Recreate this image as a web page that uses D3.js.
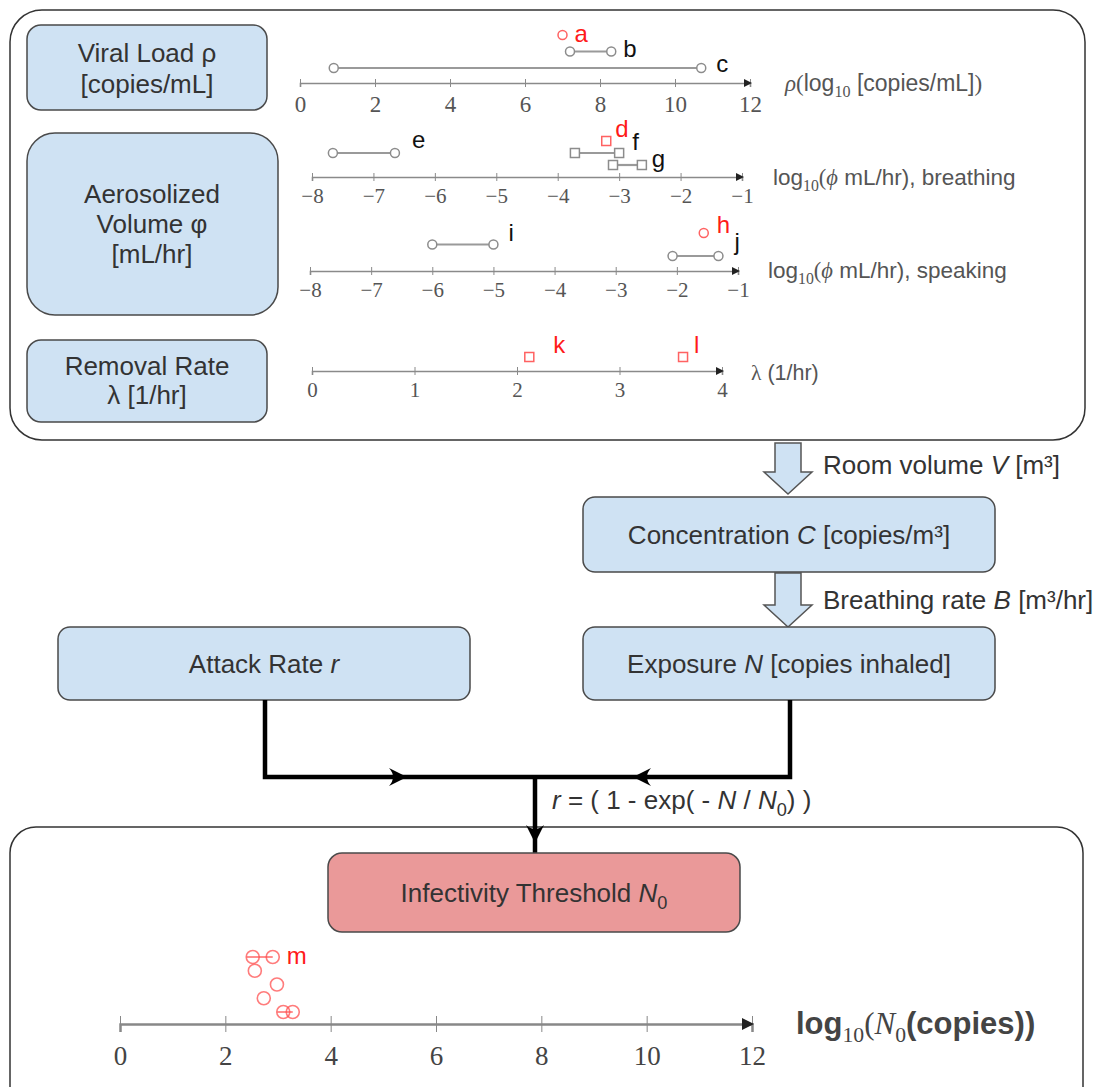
<!DOCTYPE html>
<html>
<head>
<meta charset="utf-8">
<script src="https://cdn.jsdelivr.net/npm/d3@7"></script>
<style>
  body { margin: 0; background: #fff; }
  svg { display: block; }
</style>
</head>
<body>
<svg id="chart" width="1099" height="1087"></svg>
<script>
// ---- data ----
const rhoTicks = [0, 2, 4, 6, 8, 10, 12];
const phiTicks = [-8, -7, -6, -5, -4, -3, -2, -1];
const lambdaTicks = [0, 1, 2, 3, 4];
const n0Ticks = [0, 2, 4, 6, 8, 10, 12];

// [label, low, high]
const rhoRanges = [["c", 0.9, 10.7], ["b", 7.2, 8.3]];
const rhoPoints = [["a", 7.0]];
const breathRanges = [["g", -3.1, -2.63], ["e", -7.66, -6.65], ["f", -3.72, -3.0]];
const breathPoints = [["d", -3.21]];
const speakRanges = [["j", -2.07, -1.32], ["i", -6.0, -5.0]];
const speakPoints = [["h", -1.56]];
const lambdaPoints = [["k", 2.12], ["l", 3.62]];
// infectivity threshold estimates, top row first
const n0Rows = [[2.52, 2.9], [2.56], [2.98], [2.73], [3.1, 3.28]];

// ---- layout ----
const svg = d3.select("#chart");
const SANS = "Liberation Sans, Arial, sans-serif";
const SERIF = "Liberation Serif, Times New Roman, serif";
const BLUE = "#cfe2f3";
const GREY_MARK = "#8c8c8c";
const RED = "#ff3b3b";

const rowOf = { c: 0, b: 1, a: 2, g: 0, e: 1, f: 1, d: 2, j: 0, i: 1, h: 2, k: 0, l: 0 };
const squareMarks = new Set(["f", "g", "d", "k", "l"]);
const redMarks = new Set(["a", "d", "h", "k", "l"]);
const labelNudge = {
  a: [12, 7], b: [12, 5], c: [15, 4], d: [9, -4], e: [17, -5], f: [13, -3], g: [10, 2],
  h: [13, 0], i: [15, -4], j: [16, -6], k: [24, -4], l: [11, -4]
};

// rich text helper: parts = strings or {t, serif, it, bold, sub}
function rich(g, x, y, parts, size, fill, anchor) {
  const t = g.append("text").attr("x", x).attr("y", y)
    .attr("font-size", size).attr("fill", fill)
    .attr("text-anchor", anchor || "start").attr("font-family", SANS);
  let shift = 0;
  parts.forEach(p => {
    if (typeof p === "string") p = { t: p };
    const target = p.sub ? Math.round(size * 0.25) : 0;
    const s = t.append("tspan").text(p.t)
      .attr("dy", target - shift)
      .attr("font-family", p.serif ? SERIF : SANS)
      .attr("font-style", p.it ? "italic" : "normal")
      .attr("font-weight", p.bold ? "bold" : "normal");
    if (p.sub) s.attr("font-size", size * 0.7);
    shift = target;
  });
  return t;
}

function box(x, y, w, h, rx, fill) {
  svg.append("rect").attr("x", x).attr("y", y).attr("width", w).attr("height", h)
    .attr("rx", rx).attr("fill", fill).attr("stroke", "#4a4a4a").attr("stroke-width", 1.5);
}

// ---- panels ----
svg.append("rect").attr("x", 10).attr("y", 10).attr("width", 1075).attr("height", 430)
  .attr("rx", 32).attr("fill", "none").attr("stroke", "#333").attr("stroke-width", 1.5);
svg.append("rect").attr("x", 10).attr("y", 827).attr("width", 1073).attr("height", 320)
  .attr("rx", 26).attr("fill", "none").attr("stroke", "#333").attr("stroke-width", 1.5);

// ---- input boxes ----
box(27, 25, 240, 85, 14, BLUE);
box(27, 133, 251, 182, 28, BLUE);
box(27, 340, 240, 82, 14, BLUE);
const boxText = (x, y, txt) => rich(svg, x, y, [txt], 26, "#333", "middle");
boxText(147, 62, "Viral Load ρ");
boxText(147, 93, "[copies/mL]");
boxText(152, 203, "Aerosolized");
boxText(152, 233, "Volume φ");
boxText(152, 263, "[mL/hr]");
boxText(147, 375, "Removal Rate");
boxText(147, 404, "λ [1/hr]");

// ---- number-line tracks ----
function drawAxis(x, y, ticks, o) {
  const axis = d3.axisBottom(x).tickValues(ticks).tickSizeOuter(0)
    .tickSize(o.tick).tickFormat(d3.format("d"));
  const g = svg.append("g").attr("transform", `translate(0,${y})`).call(axis);
  g.select(".domain").attr("stroke", o.color).attr("stroke-width", o.width);
  g.selectAll(".tick line").attr("y1", -o.tick).attr("y2", o.tick)
    .attr("stroke", o.color).attr("stroke-width", 1);
  g.selectAll(".tick text").attr("y", o.labelY).attr("dy", null)
    .attr("font-family", SERIF).attr("font-size", o.font).attr("fill", o.textColor);
  const end = x.range()[1] + 2;
  g.append("path").attr("d", `M${end},0 L${end - o.head},${-o.head / 2} L${end - o.head},${o.head / 2} Z`)
    .attr("fill", "#222");
  return g;
}

function drawMark(g, cx, cy, label, r) {
  const red = redMarks.has(label);
  const stroke = red ? RED : GREY_MARK;
  if (squareMarks.has(label)) {
    g.append("rect").attr("x", cx - r).attr("y", cy - r).attr("width", 2 * r).attr("height", 2 * r)
      .attr("fill", "#fff").attr("stroke", stroke).attr("stroke-width", 1.5).attr("opacity", red ? 0.8 : 1);
  } else {
    g.append("circle").attr("cx", cx).attr("cy", cy).attr("r", r)
      .attr("fill", "#fff").attr("stroke", stroke).attr("stroke-width", 1.5).attr("opacity", red ? 0.8 : 1);
  }
}

function drawLabel(g, ax, ay, label) {
  const [dx, dy] = labelNudge[label];
  g.append("text").attr("x", ax + dx).attr("y", ay + dy).text(label)
    .attr("font-family", SANS).attr("font-size", 24)
    .attr("fill", redMarks.has(label) ? "#ff1a1a" : "#111");
}

function track(t) {
  const x = d3.scaleLinear().domain(t.domain).range(t.range);
  const rowY = d3.scaleLinear().domain([0, 2]).range(t.rows);
  drawAxis(x, t.axisY, t.ticks, { tick: 4, color: "#8a8a8a", width: 1.6, labelY: t.labelY,
    font: t.font, textColor: "#555", head: 8 });
  const g = svg.append("g");
  t.ranges.forEach(([lab, lo, hi]) => {
    const y = rowY(rowOf[lab]);
    g.append("line").attr("x1", x(lo)).attr("x2", x(hi)).attr("y1", y).attr("y2", y)
      .attr("stroke", "#9a9a9a").attr("stroke-width", 2.2);
    drawMark(g, x(lo), y, lab, 4.5);
    drawMark(g, x(hi), y, lab, 4.5);
    drawLabel(g, x(hi), y, lab);
  });
  t.points.forEach(([lab, v]) => {
    const y = rowY(rowOf[lab]);
    drawMark(g, x(v), y, lab, 4.5);
    drawLabel(g, x(v), y, lab);
  });
  rich(svg, t.titleX, t.titleY, t.title, t.titleSize, "#555");
}

track({ domain: [0, 12], range: [300, 750], axisY: 83, ticks: rhoTicks, labelY: 29, font: 23,
  rows: [68, 35], ranges: rhoRanges, points: rhoPoints, titleX: 785, titleY: 91, titleSize: 23,
  title: [{ t: "ρ", serif: true, it: true }, { t: "(", serif: true }, "log", { t: "10", serif: true, sub: true },
    " [copies/mL]", { t: ")", serif: true }] });

track({ domain: [-8, -1], range: [312, 742], axisY: 177, ticks: phiTicks, labelY: 26, font: 21,
  rows: [165, 141], ranges: breathRanges, points: breathPoints, titleX: 773, titleY: 185, titleSize: 22.5,
  title: ["log", { t: "10", serif: true, sub: true }, { t: "(", serif: true }, { t: "ϕ", serif: true, it: true },
    " mL/hr), breathing"] });

track({ domain: [-8, -1], range: [310, 738], axisY: 271, ticks: phiTicks, labelY: 26, font: 21,
  rows: [256, 233], ranges: speakRanges, points: speakPoints, titleX: 768, titleY: 278, titleSize: 22.5,
  title: ["log", { t: "10", serif: true, sub: true }, { t: "(", serif: true }, { t: "ϕ", serif: true, it: true },
    " mL/hr), speaking"] });

track({ domain: [0, 4], range: [312, 722], axisY: 371, ticks: lambdaTicks, labelY: 26, font: 21,
  rows: [357, 343], ranges: [], points: lambdaPoints, titleX: 751, titleY: 380, titleSize: 21.5,
  title: [{ t: "λ", serif: true }, " (1/hr)"] });

// ---- flow ----
function blockArrow(cx, y0, yHead, yTip) {
  const s = 13, h = 24;
  const d = `M${cx - s},${y0} H${cx + s} V${yHead} H${cx + h} L${cx},${yTip} L${cx - h},${yHead} H${cx - s} Z`;
  svg.append("path").attr("d", d).attr("fill", BLUE).attr("stroke", "#555").attr("stroke-width", 1.5);
}
blockArrow(788, 443, 472, 494);
blockArrow(788, 573, 605, 627);
rich(svg, 823, 474, ["Room volume ", { t: "V", it: true }, " [m³]"], 26, "#333");
rich(svg, 823, 609, ["Breathing rate ", { t: "B", it: true }, " [m³/hr]"], 26, "#333");

box(583, 497, 412, 75, 12, BLUE);
box(583, 627, 412, 73, 12, BLUE);
box(58, 627, 412, 73, 12, BLUE);
rich(svg, 789, 544, ["Concentration ", { t: "C", it: true }, " [copies/m³]"], 26, "#333", "middle");
rich(svg, 789, 673, ["Exposure ", { t: "N", it: true }, " [copies inhaled]"], 26, "#333", "middle");
rich(svg, 264, 673, ["Attack Rate ", { t: "r", it: true }], 26, "#333", "middle");

// black connectors
svg.append("path").attr("d", "M265,700 V777 H790 V700").attr("fill", "none")
  .attr("stroke", "#000").attr("stroke-width", 4.5).attr("stroke-linejoin", "miter");
svg.append("path").attr("d", "M535,777 V853").attr("fill", "none")
  .attr("stroke", "#000").attr("stroke-width", 4.5);
function headAt(x, y, angle) {
  svg.append("path").attr("d", "M0,0 L-18,-9 Q-10,0 -18,9 Z")
    .attr("transform", `translate(${x},${y}) rotate(${angle})`).attr("fill", "#000");
}
headAt(407, 777, 0);
headAt(633, 777, 180);
headAt(535, 843, 90);
rich(svg, 552, 809, [{ t: "r", it: true }, " = ( 1 - exp( - ", { t: "N", it: true }, " / ", { t: "N", it: true },
  { t: "0", sub: true }, ") )"], 26, "#333");

// ---- infectivity threshold ----
box(328, 853, 412, 79, 14, "#ea9999");
rich(svg, 534, 902, ["Infectivity Threshold ", { t: "N", it: true }, { t: "0", sub: true }], 26, "#333", "middle");

const xN0 = d3.scaleLinear().domain([0, 12]).range([120, 752]);
drawAxis(xN0, 1024, n0Ticks, { tick: 8, color: "#888", width: 2.5, labelY: 41, font: 27,
  textColor: "#444", head: 12 });
const rowN0 = d3.scaleLinear().domain([0, n0Rows.length - 1]).range([957, 1012]);
const gN0 = svg.append("g");
n0Rows.forEach((vals, i) => {
  const y = rowN0(i);
  if (vals.length > 1) {
    gN0.append("line").attr("x1", xN0(vals[0]) - 6).attr("x2", xN0(vals[vals.length - 1]))
      .attr("y1", y).attr("y2", y).attr("stroke", "#ff5050").attr("stroke-width", 1.6).attr("opacity", 0.8);
  }
  vals.forEach(v => {
    gN0.append("circle").attr("cx", xN0(v)).attr("cy", y).attr("r", 6.5)
      .attr("fill", "none").attr("stroke", "#ff5050").attr("stroke-width", 1.6).attr("opacity", 0.75);
  });
});
gN0.append("text").attr("x", xN0(n0Rows[0][1]) + 14).attr("y", rowN0(0) + 7).text("m")
  .attr("font-family", SANS).attr("font-size", 24).attr("fill", "#ff1a1a");
rich(svg, 796, 1034, ["log", { t: "10", serif: true, sub: true }, { t: "(", serif: true },
  { t: "N", serif: true, it: true }, { t: "0", serif: true, sub: true }, "(copies))"], 31, "#444")
  .selectAll("tspan").filter(function () {
    return d3.select(this).attr("font-family") === SANS;
  }).attr("font-weight", "bold");
</script>
</body>
</html>
